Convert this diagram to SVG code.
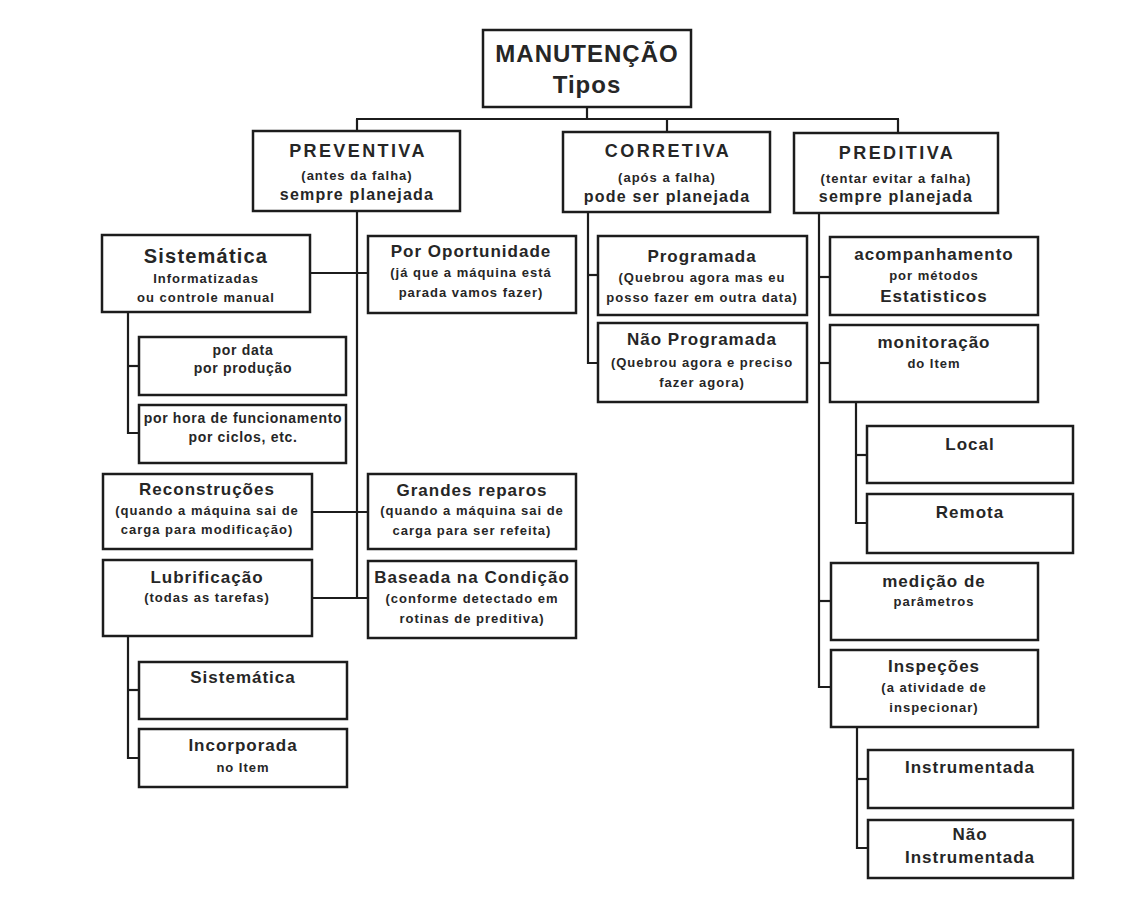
<svg xmlns="http://www.w3.org/2000/svg" width="1133" height="914" viewBox="0 0 1133 914">
<style>
rect.b{fill:#fff;stroke:#1c1c1c;stroke-width:2.5}
.c line,.c polyline{stroke:#1c1c1c;stroke-width:2.2;fill:none}
text{font-family:"Liberation Sans",Arial,sans-serif;fill:#262626;text-anchor:middle;font-weight:bold}
.t{font-size:24px;letter-spacing:1px}
.h{font-size:18px;letter-spacing:2.4px}
.h2{font-size:16px;letter-spacing:1.2px}
.m{font-size:17px;letter-spacing:1px}
.big{font-size:20px;letter-spacing:1.2px}
.s{font-size:13px;letter-spacing:1px}
.s14{font-size:14px;letter-spacing:0.7px}
</style>
<rect width="1133" height="914" fill="#fff"/>
<g class="c" id="connectors">
<line x1="587" y1="107" x2="587" y2="119"/>
<line x1="356" y1="119" x2="899" y2="119"/>
<line x1="357" y1="119" x2="357" y2="131"/>
<line x1="667" y1="119" x2="667" y2="132"/>
<line x1="898" y1="119" x2="898" y2="133"/>
<line x1="357" y1="211" x2="357" y2="598"/>
<line x1="310" y1="273" x2="368" y2="273"/>
<line x1="312" y1="512" x2="368" y2="512"/>
<line x1="312" y1="598" x2="368" y2="598"/>
<polyline points="128,312 128,433 139,433"/>
<line x1="128" y1="366" x2="139" y2="366"/>
<polyline points="128,636 128,758 139,758"/>
<line x1="128" y1="690" x2="139" y2="690"/>
<polyline points="588,212 588,363 598,363"/>
<line x1="588" y1="275" x2="598" y2="275"/>
<polyline points="819,213 819,687 831,687"/>
<line x1="819" y1="277" x2="830" y2="277"/>
<line x1="819" y1="363" x2="830" y2="363"/>
<line x1="819" y1="601" x2="831" y2="601"/>
<polyline points="856,402 856,523 867,523"/>
<line x1="856" y1="455" x2="867" y2="455"/>
<polyline points="857,727 857,848 868,848"/>
<line x1="857" y1="779" x2="868" y2="779"/>
</g>
<g id="n-manutencao"><rect class="b" x="483" y="30" width="208" height="77"/><text class="t" x="587" y="62">MANUTENÇÃO</text><text class="t" x="587" y="93">Tipos</text></g>
<g id="n-preventiva"><rect class="b" x="253" y="131" width="207" height="80"/><text class="h" x="358" y="157">PREVENTIVA</text><text class="s" x="357" y="180">(antes da falha)</text><text class="h2" x="357" y="200">sempre planejada</text></g>
<g id="n-corretiva"><rect class="b" x="563" y="132" width="207" height="80"/><text class="h" x="668" y="157">CORRETIVA</text><text class="s" x="667" y="182">(após a falha)</text><text class="h2" x="667" y="202">pode ser planejada</text></g>
<g id="n-preditiva"><rect class="b" x="794" y="133" width="204" height="80"/><text class="h" x="897" y="159">PREDITIVA</text><text class="s" x="896" y="183">(tentar evitar a falha)</text><text class="h2" x="896" y="202">sempre planejada</text></g>
<g id="n-sistematica"><rect class="b" x="102" y="235" width="208" height="77"/><text class="big" x="206" y="263">Sistemática</text><text class="s" x="206" y="283">Informatizadas</text><text class="s" x="206" y="302">ou controle manual</text></g>
<g id="n-oportunidade"><rect class="b" x="368" y="236" width="208" height="77"/><text class="m" x="471" y="257">Por Oportunidade</text><text class="s" x="471" y="277">(já que a máquina está</text><text class="s" x="471" y="297">parada vamos fazer)</text></g>
<g id="n-pordata"><rect class="b" x="139" y="337" width="207" height="58"/><text class="s14" x="243" y="355">por data</text><text class="s14" x="243" y="373">por produção</text></g>
<g id="n-porhora"><rect class="b" x="139" y="405" width="207" height="58"/><text class="s14" x="243" y="423">por hora de funcionamento</text><text class="s14" x="243" y="442">por ciclos, etc.</text></g>
<g id="n-reconstrucoes"><rect class="b" x="103" y="474" width="209" height="75"/><text class="m" x="207" y="495">Reconstruções</text><text class="s" x="207" y="515">(quando a máquina sai de</text><text class="s" x="207" y="534">carga para modificação)</text></g>
<g id="n-grandes"><rect class="b" x="368" y="474" width="208" height="75"/><text class="m" x="472" y="496">Grandes reparos</text><text class="s" x="472" y="515">(quando a máquina sai de</text><text class="s" x="472" y="535">carga para ser refeita)</text></g>
<g id="n-lubrificacao"><rect class="b" x="103" y="560" width="209" height="76"/><text class="m" x="207" y="583">Lubrificação</text><text class="s" x="207" y="602">(todas as tarefas)</text></g>
<g id="n-baseada"><rect class="b" x="368" y="561" width="208" height="77"/><text class="m" x="472" y="583">Baseada na Condição</text><text class="s" x="472" y="603">(conforme detectado em</text><text class="s" x="472" y="623">rotinas de preditiva)</text></g>
<g id="n-sistematica2"><rect class="b" x="139" y="662" width="208" height="57"/><text class="m" x="243" y="683">Sistemática</text></g>
<g id="n-incorporada"><rect class="b" x="139" y="729" width="208" height="58"/><text class="m" x="243" y="751">Incorporada</text><text class="s" x="243" y="772">no Item</text></g>
<g id="n-programada"><rect class="b" x="598" y="236" width="209" height="79"/><text class="m" x="702" y="262">Programada</text><text class="s" x="702" y="282">(Quebrou agora mas eu</text><text class="s" x="702" y="302">posso fazer em outra data)</text></g>
<g id="n-naoprogramada"><rect class="b" x="598" y="323" width="209" height="79"/><text class="m" x="702" y="345">Não Programada</text><text class="s" x="702" y="367">(Quebrou agora e preciso</text><text class="s" x="702" y="387">fazer agora)</text></g>
<g id="n-acompanhamento"><rect class="b" x="830" y="237" width="208" height="78"/><text class="m" x="934" y="260">acompanhamento</text><text class="s" x="934" y="280">por métodos</text><text class="m" x="934" y="302">Estatisticos</text></g>
<g id="n-monitoracao"><rect class="b" x="830" y="325" width="208" height="77"/><text class="m" x="934" y="348">monitoração</text><text class="s" x="934" y="368">do Item</text></g>
<g id="n-local"><rect class="b" x="867" y="426" width="206" height="57"/><text class="m" x="970" y="450">Local</text></g>
<g id="n-remota"><rect class="b" x="867" y="494" width="206" height="59"/><text class="m" x="970" y="518">Remota</text></g>
<g id="n-medicao"><rect class="b" x="831" y="563" width="207" height="77"/><text class="m" x="934" y="587">medição de</text><text class="s" x="934" y="606">parâmetros</text></g>
<g id="n-inspecoes"><rect class="b" x="831" y="650" width="207" height="77"/><text class="m" x="934" y="672">Inspeções</text><text class="s" x="934" y="692">(a atividade de</text><text class="s" x="934" y="712">inspecionar)</text></g>
<g id="n-instrumentada"><rect class="b" x="868" y="750" width="205" height="58"/><text class="m" x="970" y="773">Instrumentada</text></g>
<g id="n-naoinstrumentada"><rect class="b" x="868" y="820" width="205" height="58"/><text class="m" x="970" y="840">Não</text><text class="m" x="970" y="863">Instrumentada</text></g>
</svg>
